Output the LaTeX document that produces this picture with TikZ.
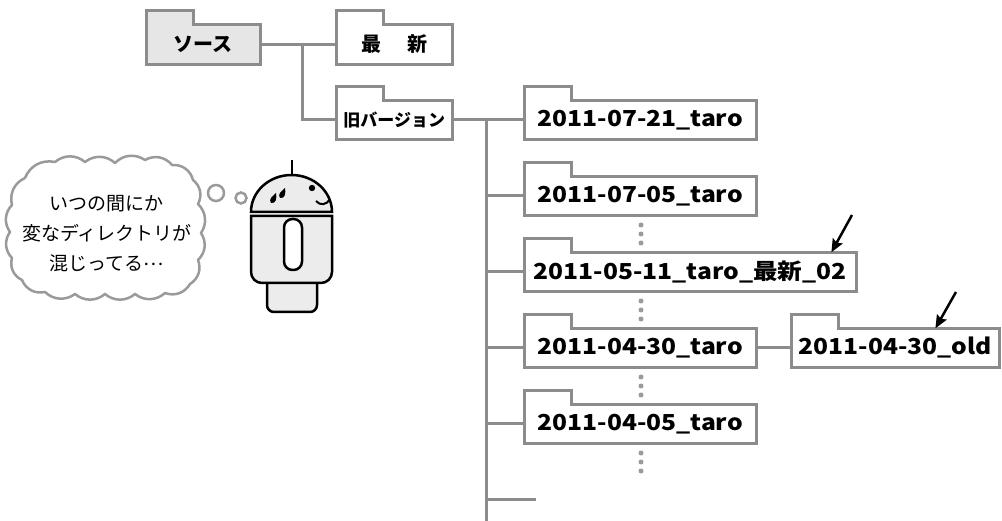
\documentclass[tikz,border=0pt]{standalone}
\usepackage{fontspec}
\setmainfont{Noto Sans CJK JP}
\newfontfamily\datefont[FakeStretch=1.12]{Noto Sans CJK JP}
\usepackage{tikz}
\usetikzlibrary{arrows.meta}
\definecolor{treegray}{HTML}{8C8C8C}
\definecolor{dotgray}{HTML}{9A9A9A}
\definecolor{srcgray}{HTML}{E6E6E6}
\definecolor{botgray}{HTML}{ECECEC}
\tikzstyle{folder} = [draw=none, anchor=west, minimum height=39pt, inner sep=0pt, font=\bfseries\fontsize{20}{24}\selectfont]
\tikzstyle{datefolder} = [folder, font=\datefont\bfseries\fontsize{22}{26}\selectfont]
\tikzstyle{fold line} = [draw=treegray, line width=3pt]
\tikzstyle{tree} = [draw=treegray, line width=3pt]
\tikzstyle{pointer} = [line width=2.5pt, -{Stealth[length=13pt,width=11pt,inset=2pt]}]
\tikzstyle{bot} = [draw=black, line width=2.5pt, fill=botgray]
% outline of a folder around a node, with the tab on its upper left
\newcommand{\foldertab}[2][white]{%
  \fill[#1] (#2.north west) rectangle ([xshift=47pt,yshift=14pt]#2.north west);
  \draw[fold line] (#2.south west) -- ([yshift=14pt]#2.north west)
    -- ([xshift=47pt,yshift=14pt]#2.north west) -- ([xshift=47pt]#2.north west)
    -- (#2.north east) -- (#2.south east) -- cycle;}
\begin{document}
\begin{tikzpicture}[x=1pt,y=-1pt]
\useasboundingbox (0,0) rectangle (1002,521);

% source tree
\node[folder,fill=srcgray,minimum width=114pt] (src) at (146,44.5) {ソース};
\node[folder,minimum width=116pt] (new) at (336,44.5) {最\hspace{1.3em}新};
\node[folder,minimum width=116pt,font=\bfseries\fontsize{17}{20}\selectfont] (old) at (336,120) {旧バージョン};
\foldertab[srcgray]{src}
\foldertab{new}
\foldertab{old}
\coordinate (j1) at (302,44.5);
\draw[tree] (src.east) -- (new.west);
\draw[tree] (j1) |- (old.west);

% dated folders
\node[datefolder,minimum width=232pt] (d1) at (524,120) {2011-07-21\_taro};
\node[datefolder,minimum width=232pt] (d2) at (524,196) {2011-07-05\_taro};
\node[datefolder,minimum width=332pt] (d3) at (524,272) {2011-05-11\_taro\_最新\_02};
\node[datefolder,minimum width=232pt] (d4) at (524,348) {2011-04-30\_taro};
\node[datefolder,minimum width=208pt] (d4old) at (791,348) {2011-04-30\_old};
\node[datefolder,minimum width=232pt] (d5) at (524,424) {2011-04-05\_taro};
\foreach \f in {d1,d2,d3,d4,d4old,d5} {\foldertab{\f}}

\coordinate (trunk) at (486,120);
\coordinate (trunkend) at (486,521);
\coordinate (stub) at (536,499.5);
\draw[tree] (old.east) -- (d1.west);
\draw[tree] (trunk) -- (trunkend);
\foreach \f in {d2,d3,d4,d5} {\draw[tree] (trunk |- \f.west) -- (\f.west);}
\draw[tree] (trunk |- stub) -- (stub);
\draw[tree] (d4.east) -- (d4old.west);

% skipped entries
\foreach \y in {196,272,348,424}
  \foreach \d in {29,38,47}
    \fill[dotgray] (641,\y+\d) circle (2.5);

% marks on the odd ones
\coordinate (mark1) at (852,215);
\coordinate (mark2) at (956,292);
\draw[pointer] (mark1) -- ([xshift=-25pt]d3.north east);
\draw[pointer] (mark2) -- ([xshift=-64pt]d4old.north east);

% thought cloud
\draw[dotgray, line width=2.5pt, line join=round] (25,178)
  \foreach \x/\y in {55/162,85/162,115/163,145/160,172/165,193/180,198/204,
    201/233,198/260,190/284,165/293,135/294,105/294,75/294,45/292,
    22/280,12/258,10/232,12/205,25/178} { to[bend left=40] (\x,\y) };
\node[align=center, inner sep=0pt, font=\fontsize{19}{30}\selectfont] (think) at (107,234)
  {いつの間にか\\変なディレクトリが\\混じってる\raisebox{0.3em}{…}};
\draw[dotgray, line width=2.5pt] (216,193) circle (8);
\draw[dotgray, line width=2.5pt] (241,198) circle (5.5);

% robot
\draw[line width=2.5pt] (292,160) -- (292,175);
\draw[bot] (251,212) arc (180:360:40.5 and 37) -- cycle;
\draw[bot, rounded corners=7pt] (267,280) -- (267,312) -- (317,312) -- (317,280);
\draw[bot] (251,216) [rounded corners=11pt] -- (251,283) -- (332,283) [sharp corners] -- (332,216) -- cycle;
\draw[bot, fill=white, rounded corners=8.5pt] (284,219) rectangle (302,270);
\fill (312,188) circle (3.2);
\draw[line width=2pt] (316,201) .. controls (320,206) and (327,205) .. (330,199);
\fill (271,203) .. controls (268,199) and (273,196) .. (276,193) .. controls (277,198) and (276,204) .. cycle;
\fill (280,198) .. controls (277,194) and (282,191) .. (285,188) .. controls (286,193) and (285,199) .. cycle;
\end{tikzpicture}
\end{document}
